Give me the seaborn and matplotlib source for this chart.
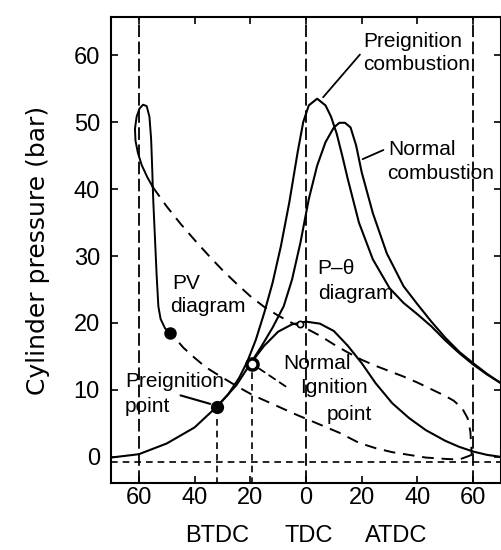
import matplotlib.pyplot as plt
import seaborn as sns

# crank angle in degrees (negative = BTDC), pressure in bar
motor_theta = [-70, -60, -50, -40, -32, -25, -20, -15, -10, -5, 0, 5, 10, 15, 20, 25, 31, 37, 43, 50, 55, 60, 65, 70]
motor_p = [-0.1, 0.4, 2.0, 4.4, 7.5, 10.7, 13.9, 16.6, 18.7, 19.8, 20.2, 19.9, 18.8, 16.6, 14.0, 11.0, 8.0, 5.8, 4.0, 2.4, 1.5, 0.8, 0.3, 0.0]

preign_theta = [-32, -28, -24, -21, -18, -15, -12, -9, -6, -3, -1, 1, 4, 7, 9, 11, 13, 15, 19, 24, 30, 35, 40, 45, 50, 55, 60, 65, 70]
preign_p = [7.5, 9.3, 11.8, 14.3, 17.5, 21.5, 26.0, 31.5, 38.0, 45.5, 50.0, 52.5, 53.5, 52.5, 50.8, 48.3, 45.0, 41.5, 35.0, 29.5, 25.2, 23.0, 21.3, 19.5, 17.4, 15.5, 13.8, 12.3, 11.0]

normal_theta = [-20, -16, -12, -8, -5, -2, 1, 4, 7, 10, 12, 14, 16, 18, 20, 24, 29, 35, 40, 45, 50, 55, 60, 65, 70]
normal_p = [13.9, 16.5, 19.3, 22.5, 26.5, 32.0, 38.5, 43.5, 47.0, 49.2, 49.9, 49.9, 49.2, 46.5, 42.5, 36.4, 30.4, 25.5, 22.8, 20.2, 17.8, 15.7, 14.0, 12.4, 11.0]

# PV diagram drawn on the same frame
pv_comp_x = [59.5, 55, 50, 43, 37, 31, 25, 19, 12, 4, -4, -12, -19, -25, -31, -36, -40, -44, -46.5, -48.8]
pv_comp_p = [0.3, -0.4, -0.3, -0.1, 0.3, 0.7, 1.3, 2.1, 3.6, 5.0, 6.4, 7.9, 9.2, 10.6, 12.1, 13.4, 14.8, 16.3, 17.5, 18.5]

pv_rise_x = [-48.8, -50.6, -52.2, -53.0, -53.6, -54.2, -54.8, -55.0]
pv_rise_p = [18.5, 19.2, 20.6, 22.5, 27.0, 32.5, 38.0, 40.3]

pv_loop_x = [-55.0, -55.2, -55.6, -56.2, -57.2, -58.5, -59.8, -60.8, -61.4, -61.2, -60.4, -59.0, -57.0, -55.0]
pv_loop_p = [40.3, 43.0, 47.5, 50.8, 52.4, 52.6, 52.0, 50.8, 49.0, 47.2, 45.5, 43.6, 41.8, 40.3]

pv_exp_x = [-55, -50, -45, -40, -35, -30, -25, -20, -15, -10, -5, 0, 5, 10, 15, 20, 25, 30, 35, 40, 45, 50, 53, 56, 58, 59, 59.5]
pv_exp_p = [40.3, 37.4, 34.8, 32.4, 30.1, 27.9, 25.9, 24.0, 22.4, 21.1, 20.0, 19.2, 18.1, 16.8, 15.6, 14.5, 13.6, 12.8, 12.0, 11.1, 10.1, 9.1, 8.4, 7.3, 5.8, 3.8, 0.3]

pv_point = (-48.8, 18.5)
preign_point = (-32, 7.5)
normal_ign_point = (-19.5, 13.9)
cross_point = (-2, 19.9)

ref_angles = [-60, 0, 60]
atm_p = -0.7

tick_angles = [-60, -40, -20, 0, 20, 40, 60]
tick_labels = ["60", "40", "20", "0", "20", "40", "60"]
p_ticks = [0, 10, 20, 30, 40, 50, 60]

sns.set_style("ticks")
plt.rcParams["font.family"] = ["Liberation Sans", "DejaVu Sans"]
plt.rcParams["axes.linewidth"] = 1.5
for key in ["text.color", "axes.labelcolor", "xtick.color", "ytick.color", "axes.edgecolor"]:
    plt.rcParams[key] = "black"

fig = plt.figure(figsize=(5.02, 5.5), dpi=100)
ax = fig.add_axes([111 / 502, 67 / 550, 390 / 502, 466 / 550])

k = "black"
# reference lines
for a in ref_angles:
    ax.axvline(a, color=k, lw=1.3, linestyle=(0, (7, 2.5)))
ax.axhline(atm_p, color=k, lw=1.2, linestyle=(0, (4, 3)))
ax.vlines([preign_point[0], normal_ign_point[0]], -4, [preign_point[1], normal_ign_point[1]],
          color=k, lw=1.2, linestyles=[(0, (4, 3))])

# P-theta curves
sns.lineplot(x=motor_theta, y=motor_p, ax=ax, color=k, lw=1.5, estimator=None, sort=False)
sns.lineplot(x=preign_theta, y=preign_p, ax=ax, color=k, lw=1.5, estimator=None, sort=False)
sns.lineplot(x=normal_theta, y=normal_p, ax=ax, color=k, lw=1.5, estimator=None, sort=False)

# PV diagram
sns.lineplot(x=pv_comp_x, y=pv_comp_p, ax=ax, color=k, lw=1.4, estimator=None, sort=False,
             linestyle=(0, (6, 4)))
sns.lineplot(x=pv_rise_x, y=pv_rise_p, ax=ax, color=k, lw=1.4, estimator=None, sort=False)
sns.lineplot(x=pv_loop_x, y=pv_loop_p, ax=ax, color=k, lw=1.4, estimator=None, sort=False)
sns.lineplot(x=pv_exp_x, y=pv_exp_p, ax=ax, color=k, lw=1.4, estimator=None, sort=False,
             linestyle=(0, (6, 4)))

ax.plot(*pv_point, "o", color=k, ms=8)
ax.plot(*preign_point, "o", color=k, ms=8.5)
ax.plot(*normal_ign_point, "o", mfc="white", mec=k, ms=8, mew=2.5)
ax.plot(*cross_point, "o", mfc="white", mec=k, ms=4.5, mew=1.2)

# labels and leaders
fs = 15
ax.text(20.5, 62.1, "Preignition", fontsize=fs, va="center")
ax.text(20.5, 58.6, "combustion", fontsize=fs, va="center")
ax.annotate("", xy=(5.5, 53.4), xytext=(20.0, 60.4), arrowprops=dict(arrowstyle="-", lw=1.3, color=k))
ax.text(29.4, 45.9, "Normal", fontsize=fs, va="center")
ax.text(29.1, 42.3, "combustion", fontsize=fs, va="center")
ax.annotate("", xy=(19.4, 44.3), xytext=(28.7, 46.0), arrowprops=dict(arrowstyle="-", lw=1.3, color=k))
ax.text(-48.1, 25.9, "PV", fontsize=fs, va="center")
ax.text(-48.8, 22.4, "diagram", fontsize=fs, va="center")
ax.text(4.2, 28.2, "P\u2013\u03b8", fontsize=fs, va="center")
ax.text(4.2, 24.4, "diagram", fontsize=fs, va="center")
ax.text(-65, 11.3, "Preignition", fontsize=fs, va="center")
ax.text(-65, 7.6, "point", fontsize=fs, va="center")
ax.annotate("", xy=(-33.4, 7.8), xytext=(-46, 9.3), arrowprops=dict(arrowstyle="-", lw=1.5, color=k))
ax.text(-8.3, 14.0, "Normal", fontsize=fs, va="center")
ax.text(-2.2, 10.3, "Ignition", fontsize=fs, va="center")
ax.text(7.5, 6.4, "point", fontsize=fs, va="center")
ax.annotate("", xy=(-18.3, 13.6), xytext=(-6.5, 10.3),
            arrowprops=dict(arrowstyle="-", lw=1.3, color=k, linestyle=(0, (4, 3))))

ax.set_xlim(-70, 70)
ax.set_ylim(-3.9, 65.7)
ax.set_xticks(tick_angles)
ax.set_xticklabels(tick_labels)
ax.set_yticks(p_ticks)
ax.tick_params(direction="in", length=5, width=1.2, top=True, right=True, labelsize=17)
ax.tick_params(axis="x", pad=3)
ax.tick_params(axis="y", pad=8)

ax.set_xlabel("")
ax.set_ylabel("Cylinder pressure (bar)", fontsize=18, family=["DejaVu Sans"])
ax.yaxis.set_label_coords(-0.156, 0.5)

tr = ax.get_xaxis_transform()
for x, s in zip([-32, 1, 32.3], ["BTDC", "TDC", "ATDC"]):
    ax.text(x, -0.114, s, transform=tr, ha="center", va="center", fontsize=17)

fig.savefig("out.png", dpi=100)
